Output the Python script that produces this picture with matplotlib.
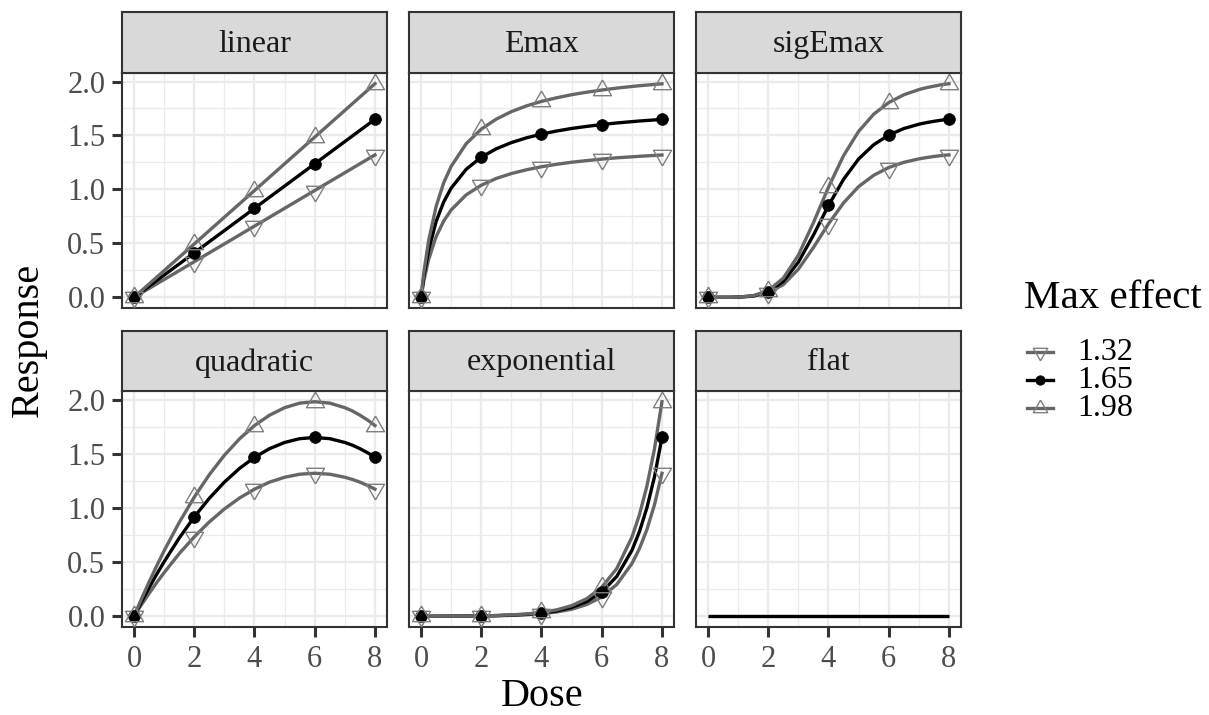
import numpy as np
import matplotlib
matplotlib.use("Agg")
import matplotlib.pyplot as plt
from matplotlib.lines import Line2D

plt.rcParams["font.family"] = ["Liberation Serif", "DejaVu Serif"]

# dose grid used for the smooth curves
dose = [0, 0.1, 0.25, 0.5, 0.75, 1, 1.5, 2, 2.5, 3, 3.5, 4, 4.5, 5, 5.5, 6,
        6.5, 7, 7.25, 7.5, 7.75, 8]
dose_pts = [0, 2, 4, 6, 8]

levels = ["1.32", "1.65", "1.98"]

linear_132 = [0, 0.33, 0.66, 0.99, 1.32]
linear_165 = [0, 0.4125, 0.825, 1.2375, 1.65]
linear_198 = [0, 0.495, 0.99, 1.485, 1.98]

emax_132 = [0, 0.163, 0.349, 0.562, 0.706, 0.810, 0.950, 1.039, 1.102, 1.147, 1.182,
            1.210, 1.233, 1.252, 1.267, 1.281, 1.293, 1.302, 1.307, 1.311, 1.315, 1.319]
emax_165 = [0, 0.204, 0.436, 0.702, 0.883, 1.012, 1.187, 1.299, 1.377, 1.434, 1.478,
            1.513, 1.541, 1.565, 1.584, 1.601, 1.616, 1.628, 1.634, 1.639, 1.644, 1.649]
emax_198 = [0, 0.245, 0.523, 0.842, 1.060, 1.214, 1.424, 1.559, 1.652, 1.721, 1.774,
            1.816, 1.849, 1.878, 1.901, 1.921, 1.939, 1.954, 1.961, 1.967, 1.973, 1.979]

sigemax_132 = [0, 0, 0, 0, 0, 0.002, 0.010, 0.041, 0.118, 0.261, 0.462, 0.681, 0.875,
               1.026, 1.131, 1.203, 1.251, 1.283, 1.295, 1.305, 1.314, 1.320]
sigemax_165 = [0, 0, 0, 0, 0, 0.002, 0.013, 0.052, 0.148, 0.326, 0.577, 0.851, 1.094,
               1.282, 1.414, 1.504, 1.564, 1.604, 1.619, 1.631, 1.642, 1.650]
sigemax_198 = [0, 0, 0, 0, 0, 0.002, 0.015, 0.062, 0.178, 0.391, 0.692, 1.021, 1.313,
               1.538, 1.697, 1.805, 1.877, 1.925, 1.943, 1.957, 1.970, 1.980]

quad_132 = [0, 0.044, 0.108, 0.211, 0.310, 0.403, 0.578, 0.733, 0.871, 0.990, 1.091,
            1.173, 1.238, 1.283, 1.311, 1.320, 1.311, 1.283, 1.263, 1.238, 1.208, 1.173]
quad_165 = [0, 0.055, 0.135, 0.264, 0.387, 0.504, 0.722, 0.917, 1.089, 1.238, 1.364,
            1.467, 1.547, 1.604, 1.639, 1.650, 1.639, 1.604, 1.579, 1.547, 1.510, 1.467]
quad_198 = [0, 0.066, 0.162, 0.317, 0.464, 0.605, 0.866, 1.100, 1.307, 1.486, 1.637,
            1.760, 1.856, 1.925, 1.967, 1.980, 1.967, 1.925, 1.895, 1.856, 1.812, 1.760]

expo_132 = [0, 0, 0, 0, 0.000, 0.001, 0.002, 0.003, 0.005, 0.008, 0.014, 0.024, 0.039,
            0.065, 0.108, 0.178, 0.294, 0.485, 0.623, 0.800, 1.028, 1.320]
expo_165 = [0, 0, 0, 0, 0.001, 0.001, 0.002, 0.004, 0.006, 0.011, 0.018, 0.030, 0.049,
            0.082, 0.135, 0.223, 0.368, 0.607, 0.779, 1.001, 1.285, 1.650]
expo_198 = [0, 0, 0, 0, 0.001, 0.001, 0.002, 0.004, 0.007, 0.013, 0.021, 0.036, 0.059,
            0.098, 0.162, 0.267, 0.441, 0.728, 0.935, 1.201, 1.542, 1.980]

flat_dose = [0, 8]
flat_resp = [0, 0]

models = ["linear", "Emax", "sigEmax", "quadratic", "exponential", "flat"]
curves = {
    "linear": (dose_pts, [linear_132, linear_165, linear_198]),
    "Emax": (dose, [emax_132, emax_165, emax_198]),
    "sigEmax": (dose, [sigemax_132, sigemax_165, sigemax_198]),
    "quadratic": (dose, [quad_132, quad_165, quad_198]),
    "exponential": (dose, [expo_132, expo_165, expo_198]),
}

# styles: line colour, marker, marker face, marker size
tri_up = [(0, 1), (-0.866, -0.5), (0.866, -0.5), (0, 1)]
tri_dn = [(0, -1), (-0.866, 0.5), (0.866, 0.5), (0, -1)]
styles = {
    "1.32": dict(color="#666666", marker=tri_dn, mfc="none", mec="#7f7f7f", ms=15, mew=1.0),
    "1.65": dict(color="black", marker="o", mfc="black", mec="black", ms=8.5, mew=0.5),
    "1.98": dict(color="#666666", marker=tri_up, mfc="none", mec="#7f7f7f", ms=15, mew=1.0),
}

W, H = 1209, 715
fig = plt.figure(figsize=(W / 100, H / 100), dpi=100)


def px_axes(l, t, r, b):
    return fig.add_axes([l / W, 1 - b / H, (r - l) / W, (b - t) / H])


cols = [(122, 387), (409, 674), (696, 961)]
rows = [(12, 73, 308), (331, 391, 627)]
border = "#333333"

for i, name in enumerate(models):
    r, c = divmod(i, 3)
    left, right = cols[c]
    stop, ptop, pbot = rows[r]

    ax = px_axes(left, ptop, right, pbot)
    ax.set_xlim(-0.4, 8.4)
    ax.set_ylim(-0.099, 2.079)
    ax.set_xticks([0, 2, 4, 6, 8])
    ax.set_xticks([1, 3, 5, 7], minor=True)
    ax.set_yticks([0, 0.5, 1.0, 1.5, 2.0])
    ax.set_yticks([0.25, 0.75, 1.25, 1.75], minor=True)
    ax.grid(True, which="major", color="#EBEBEB", lw=1.7)
    ax.grid(True, which="minor", color="#EBEBEB", lw=0.9)
    ax.set_axisbelow(True)
    for sp in ax.spines.values():
        sp.set_color(border)
        sp.set_linewidth(1.5)
    ax.tick_params(which="minor", length=0)
    ax.tick_params(which="major", length=7, width=2.2, color=border,
                   labelsize=22, labelcolor="#4D4D4D")
    ax.tick_params(axis="x", pad=6)
    ax.tick_params(axis="y", pad=5)
    ax.yaxis.set_major_formatter(matplotlib.ticker.FormatStrFormatter("%.1f"))
    if c != 0:
        ax.tick_params(axis="y", length=0, labelleft=False)
    if r != 1:
        ax.tick_params(axis="x", length=0, labelbottom=False)

    if name == "flat":
        ax.plot(flat_dose, flat_resp, color="black", lw=2.4, solid_capstyle="butt")
    else:
        xs, ys = curves[name]
        xs = np.array(xs)
        mask = np.isin(xs, dose_pts)
        for lev, y in zip(levels, ys):
            st = styles[lev]
            y = np.array(y)
            ax.plot(xs, y, color=st["color"], lw=2.4, zorder=3)
        for lev, y in zip(levels, ys):
            st = styles[lev]
            y = np.array(y)
            ax.plot(xs[mask], y[mask], ls="none", marker=st["marker"], mfc=st["mfc"],
                    mec=st["mec"], ms=st["ms"], mew=st["mew"], zorder=4)

    sax = px_axes(left, stop, right, ptop)
    sax.set_facecolor("#D9D9D9")
    sax.set_xticks([])
    sax.set_yticks([])
    for sp in sax.spines.values():
        sp.set_color(border)
        sp.set_linewidth(1.5)
    sax.text(0.5, 0.47, name, ha="center", va="center", fontsize=23,
             color="#1A1A1A", transform=sax.transAxes)

fig.text(542 / W, 1 - 697 / H, "Dose", ha="center", va="center", fontsize=29)
fig.text(28 / W, 1 - 340 / H, "Response", ha="center", va="center",
         rotation=90, fontsize=29)

# legend
lax = px_axes(1000, 270, 1209, 430)
lax.set_xlim(1000, 1209)
lax.set_ylim(430, 270)
lax.axis("off")
lax.text(1024, 298, "Max effect", ha="left", va="center", fontsize=29.5)
for k, lev in enumerate(levels):
    yk = 352 + k * 28
    st = styles[lev]
    lax.add_line(Line2D([1027, 1053], [yk, yk], color=st["color"], lw=2.4))
    lax.add_line(Line2D([1040], [yk], ls="none", marker=st["marker"], mfc=st["mfc"],
                        mec=st["mec"], ms=st["ms"] * 0.8, mew=st["mew"]))
    lax.text(1077, yk, lev, ha="left", va="center", fontsize=23)

fig.savefig("out.png", dpi=100)
